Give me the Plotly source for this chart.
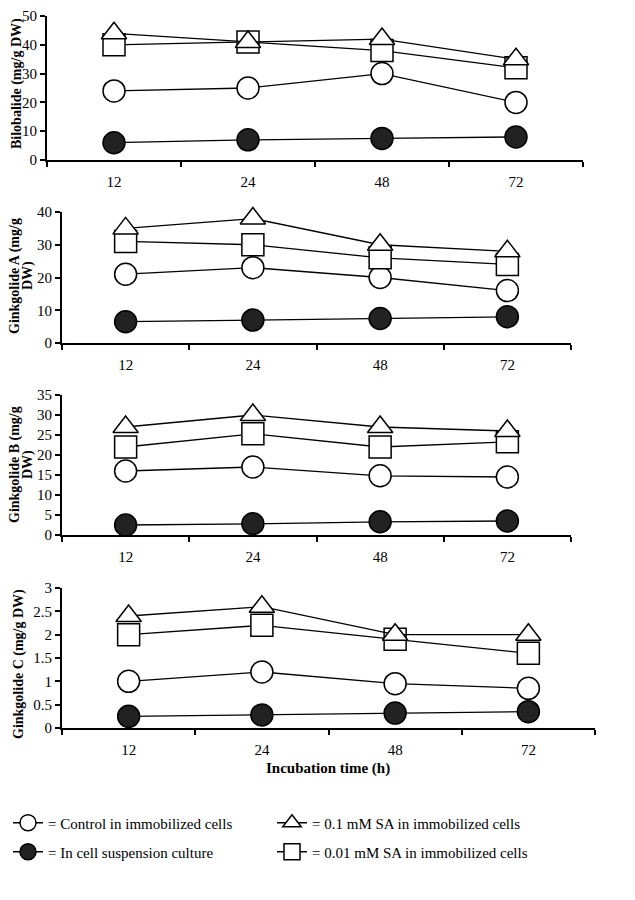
import plotly.graph_objects as go

times = ["12", "24", "48", "72"]

bilobalide_control = [24, 25, 30, 20]
bilobalide_suspension = [6, 7, 7.5, 8]
bilobalide_sa01 = [44, 41, 42, 35]
bilobalide_sa001 = [40, 41, 38, 32]

gA_control = [21, 23, 20, 16]
gA_suspension = [6.5, 7, 7.5, 8]
gA_sa01 = [35, 38, 30, 28]
gA_sa001 = [31, 30, 26, 24]

gB_control = [16, 17, 14.8, 14.5]
gB_suspension = [2.5, 2.8, 3.3, 3.5]
gB_sa01 = [27, 30, 27, 26]
gB_sa001 = [22, 25.3, 22, 23.3]

gC_control = [1.0, 1.2, 0.95, 0.85]
gC_suspension = [0.25, 0.28, 0.32, 0.35]
gC_sa01 = [2.4, 2.6, 2.0, 2.0]
gC_sa001 = [2.0, 2.2, 1.9, 1.6]

panels = [
    dict(control=bilobalide_control, susp=bilobalide_suspension, sa01=bilobalide_sa01, sa001=bilobalide_sa001,
         ymax=50, dtick=10),
    dict(control=gA_control, susp=gA_suspension, sa01=gA_sa01, sa001=gA_sa001, ymax=40, dtick=10),
    dict(control=gB_control, susp=gB_suspension, sa01=gB_sa01, sa001=gB_sa001, ymax=35, dtick=5),
    dict(control=gC_control, susp=gC_suspension, sa01=gC_sa01, sa001=gC_sa001, ymax=3, dtick=0.5),
]

# page has an 8px body margin; figure is sized to fill the rest of the window
OFF = 8
W, H = 635 - OFF, 900 - OFF


def fx(X):
    return (X - OFF) / W


def fy(Y):
    return 1 - (Y - OFF) / H


# pixel boxes in window coordinates: (left, right, top, bottom)
boxes = [(47, 583, 16, 160), (62, 571, 212, 343), (62, 571, 395, 535), (62, 595, 588, 728)]

SERIF = "Liberation Serif"
fig = go.Figure()

# key, legend name, symbol, fill, legend id, rank
series_defs = [
    ("susp", "= In cell suspension culture", "circle", "#222222", "legend2", 1),
    ("control", "= Control in immobilized cells", "circle", "white", "legend", 1),
    ("sa001", "= 0.01 mM SA in immobilized cells", "square", "white", "legend2", 2),
    ("sa01", "= 0.1 mM SA in immobilized cells", "triangle-up", "white", "legend", 2),
]

layout_axes = {}
for i, (p, b) in enumerate(zip(panels, boxes)):
    n = "" if i == 0 else str(i + 1)
    xa, ya = "x" + n, "y" + n
    for key, name, sym, fill, leg, rank in series_defs:
        fig.add_trace(go.Scatter(
            x=times, y=p[key], xaxis=xa, yaxis=ya, mode="lines+markers",
            name=name, showlegend=(i == 0), legend=leg, legendrank=rank, cliponaxis=False,
            line=dict(color="black", width=1.3),
            marker=dict(symbol=sym, size=22, color=fill, line=dict(color="black", width=1.5)),
        ))
    l, r, t, bt = b
    layout_axes["xaxis" + n] = dict(
        domain=[fx(l), fx(r)], anchor=ya, type="category", range=[-0.5, 3.5], automargin=False,
        tickson="boundaries", ticks="outside", ticklen=5, tickwidth=2, tickcolor="black",
        showline=True, linecolor="black", linewidth=2, showgrid=False, zeroline=False,
        tickfont=dict(family=SERIF, size=15, color="black"), ticklabelstandoff=7,
    )
    layout_axes["yaxis" + n] = dict(
        domain=[fy(bt), fy(t)], anchor=xa, range=[0, p["ymax"]], dtick=p["dtick"], tick0=0,
        automargin=False,
        ticks="outside", ticklen=5, tickwidth=2, tickcolor="black",
        showline=True, linecolor="black", linewidth=2, showgrid=False, zeroline=False,
        tickfont=dict(family=SERIF, size=15, color="black"),
    )

fig.update_layout(**layout_axes)

# y-axis titles (one annotation per text line), window pixel positions
title_lines = [
    ("<b>Bilobalide (mg/g DW)</b>", 17, 84),
    ("<b>Ginkgolide A (mg/g</b>", 15, 276),
    ("<b>DW)</b>", 28, 276),
    ("<b>Ginkgolide B (mg/g</b>", 15, 465),
    ("<b>DW)</b>", 28, 465),
    ("<b>Ginkgolide C (mg/g DW)</b>", 19, 664),
]
annotations = []
for txt, xp, yp in title_lines:
    annotations.append(dict(text=txt, x=fx(xp), y=fy(yp), xref="paper", yref="paper",
                            textangle=-90, showarrow=False, xanchor="center", yanchor="middle",
                            font=dict(family=SERIF, size=14, color="black")))
annotations.append(dict(text="<b>Incubation time (h)</b>", x=fx(328), y=fy(768), xref="paper", yref="paper",
                        showarrow=False, xanchor="center", yanchor="middle",
                        font=dict(family=SERIF, size=15, color="black")))

leg_common = dict(orientation="h", x=0, xanchor="left", yanchor="middle",
                  entrywidth=219, entrywidthmode="pixels", itemsizing="trace",
                  font=dict(family=SERIF, size=15, color="black"), bgcolor="rgba(0,0,0,0)",
                  traceorder="normal")

fig.update_layout(
    width=W, height=H, margin=dict(l=0, r=0, t=0, b=0, autoexpand=False),
    paper_bgcolor="white", plot_bgcolor="white",
    annotations=annotations,
    showlegend=True,
    legend=dict(y=fy(823), **leg_common),
    legend2=dict(y=fy(852), **leg_common),
)

fig.write_html("out.html")
